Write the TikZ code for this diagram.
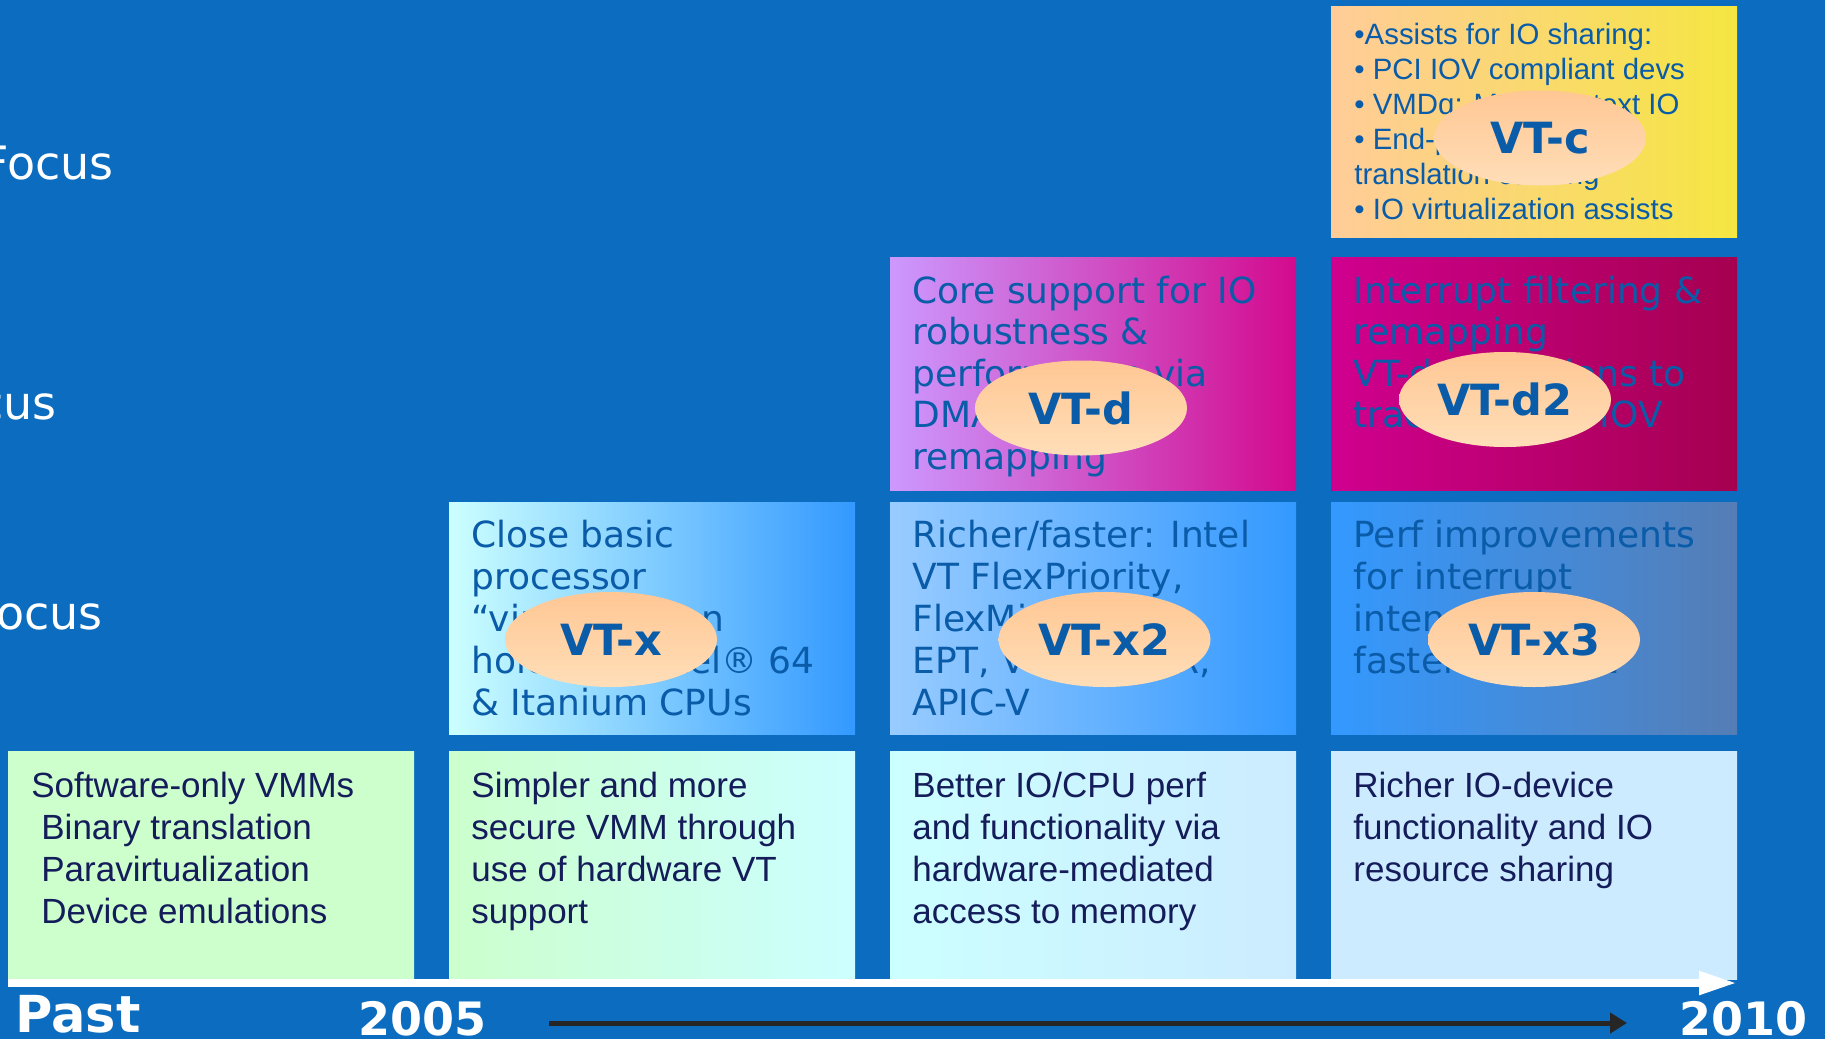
\documentclass[tikz,border=0pt]{standalone}
\usepackage{fontspec}
\setmainfont{DejaVu Sans}
\newfontfamily\arialfont{Liberation Sans}
\usetikzlibrary{shapes.geometric,arrows.meta}

\definecolor{bgblue}{HTML}{0B6CC0}
\definecolor{txtblue}{HTML}{0A5CA8}
\definecolor{navy}{HTML}{141C5A}
\definecolor{peachtop}{HTML}{FFC794}
\definecolor{peachbot}{HTML}{FFDEB8}
\definecolor{lgreen}{HTML}{CCFFCC}
\definecolor{lcyan}{HTML}{CCFFFF}
\definecolor{lblue}{HTML}{CCEBFF}
\definecolor{midblue}{HTML}{99CCFF}
\definecolor{vtblue}{HTML}{3399FF}
\definecolor{greyblue}{HTML}{557DB5}
\definecolor{lilac}{HTML}{CC99FF}
\definecolor{vtmagenta}{HTML}{D30A8E}
\definecolor{rosemag}{HTML}{D0008F}
\definecolor{crimson}{HTML}{A50050}
\definecolor{peach}{HTML}{FFCC99}
\definecolor{yellowc}{HTML}{F5E642}
\definecolor{arrowgrey}{HTML}{262626}

% one node per line of a box
\newcommand{\boxtext}[6][]{%
  \foreach \lbl [count=\k from 0] in {#6}
    \node[txt,#1] (#2-\k) at (#3,{#4+#5*\k}) {\lbl};}

\begin{document}
\begin{tikzpicture}[x=0.5pt,y=-0.5pt,
    txt/.style={anchor=base west, inner sep=0pt, text=txtblue, font=\fontsize{18}{21}\selectfont},
    low/.style={text=navy, font=\arialfont\fontsize{17.5}{21}\selectfont},
    vt/.style={ellipse, minimum width=106pt, minimum height=47.5pt, inner sep=0pt,
      top color=peachtop, bottom color=peachbot, text=txtblue,
      font=\bfseries\fontsize{21.5}{25}\selectfont},
    year/.style={anchor=base west, inner sep=0pt, text=white, font=\bfseries\fontsize{23}{27}\selectfont},
    focus/.style={anchor=base east, inner sep=0pt, text=white, font=\fontsize{23}{27}\selectfont}]

\useasboundingbox (0,0) rectangle (1825,1039);
\clip (0,0) rectangle (1825,1039);
\fill[bgblue] (0,0) rectangle (1825,1039);

% boxes: left / top / bottom / colours
\foreach \x/\t/\b/\lc/\rc in {8/751/979/lgreen/lgreen, 449/751/979/lgreen/lcyan,
    890/751/979/lcyan/lblue, 1331/751/979/lblue/lblue,
    449/502/734/lcyan/vtblue, 890/502/734/midblue/vtblue, 1331/502/734/vtblue/greyblue,
    890/257/490/lilac/vtmagenta, 1331/257/490/rosemag/crimson,
    1331/6/237/peach/yellowc}
  \shade[left color=\lc, right color=\rc] (\x,\t) rectangle ({\x+406},\b);

% left labels
\node[focus] (f1) at (114,179) {Focus};
\node[focus] (f2) at (57,419) {cus};
\node[focus] (f3) at (103,629) {ocus};

% bottom row
\boxtext[low]{b1}{31}{797}{42}{Software-only VMMs, \hspace*{5pt}Binary translation,
  \hspace*{5pt}Paravirtualization, \hspace*{5pt}Device emulations}
\boxtext[low]{b2}{471}{797}{42}{Simpler and more, secure VMM through, use of hardware VT, support}
\boxtext[low]{b3}{912}{797}{42}{Better IO/CPU perf, and functionality via, hardware-mediated, access to memory}
\boxtext[low]{b4}{1353}{797}{42}{Richer IO-device, functionality and IO, resource sharing}

% VT-x row
\boxtext{x1}{471}{547}{42}{Close basic, processor, “virtualization, holes” in Intel® 64, \& Itanium CPUs}
\boxtext{x2}{912}{547}{42}{Richer/faster: Intel, {VT FlexPriority,}, {FlexMigration,}, {EPT, VPID, vTPR,}, APIC-V}
\boxtext{x3}{1353}{547}{42}{Perf improvements, for interrupt, {intensive env,}, faster VM boot}

% VT-d row
\boxtext{d1}{912}{303}{41.5}{Core support for IO, robustness \&, performance via, DMA, remapping}
\boxtext{d2}{1353}{303}{41.5}{Interrupt filtering \&, remapping, VT-d extensions to, track PCI-SIG IOV}

% VT-c
\boxtext[font=\arialfont\fontsize{14.7}{17.5}\selectfont]{c1}{1354}{44}{35}{•Assists for IO sharing:,
  • PCI IOV compliant devs, • VMDq: Multi-context IO, • End-point DMA, translation caching,
  • IO virtualization assists}

% ellipses
\node[vt] (vtx) at (611,639.5) {VT-x};
\node[vt] (vtx2) at (1104.5,639.5) {VT-x2};
\node[vt] (vtx3) at (1534,639.5) {VT-x3};
\node[vt] (vtd) at (1081,408) {VT-d};
\node[vt] (vtd2) at (1505,399.5) {VT-d2};
\node[vt] (vtc) at (1540,138) {VT-c};

% time axes
\coordinate (t0) at (8,983);
\coordinate (t1) at (1737,983);
\draw[white, line width=4pt, -{Triangle[length=19pt,width=11pt]}] (t0) -- (t1);
\coordinate (a0) at (549,1023);
\coordinate (a1) at (1627,1023);
\draw[arrowgrey, line width=2.5pt, -{Triangle[length=8.5pt,width=10pt]}] (a0) -- (a1);

\node[year, font=\bfseries\fontsize{25.5}{30}\selectfont] (past) at (15,1032) {Past};
\node[year] (y2005) at (358,1035) {2005};
\node[year] (y2010) at (1679,1035) {2010};
\end{tikzpicture}
\end{document}
